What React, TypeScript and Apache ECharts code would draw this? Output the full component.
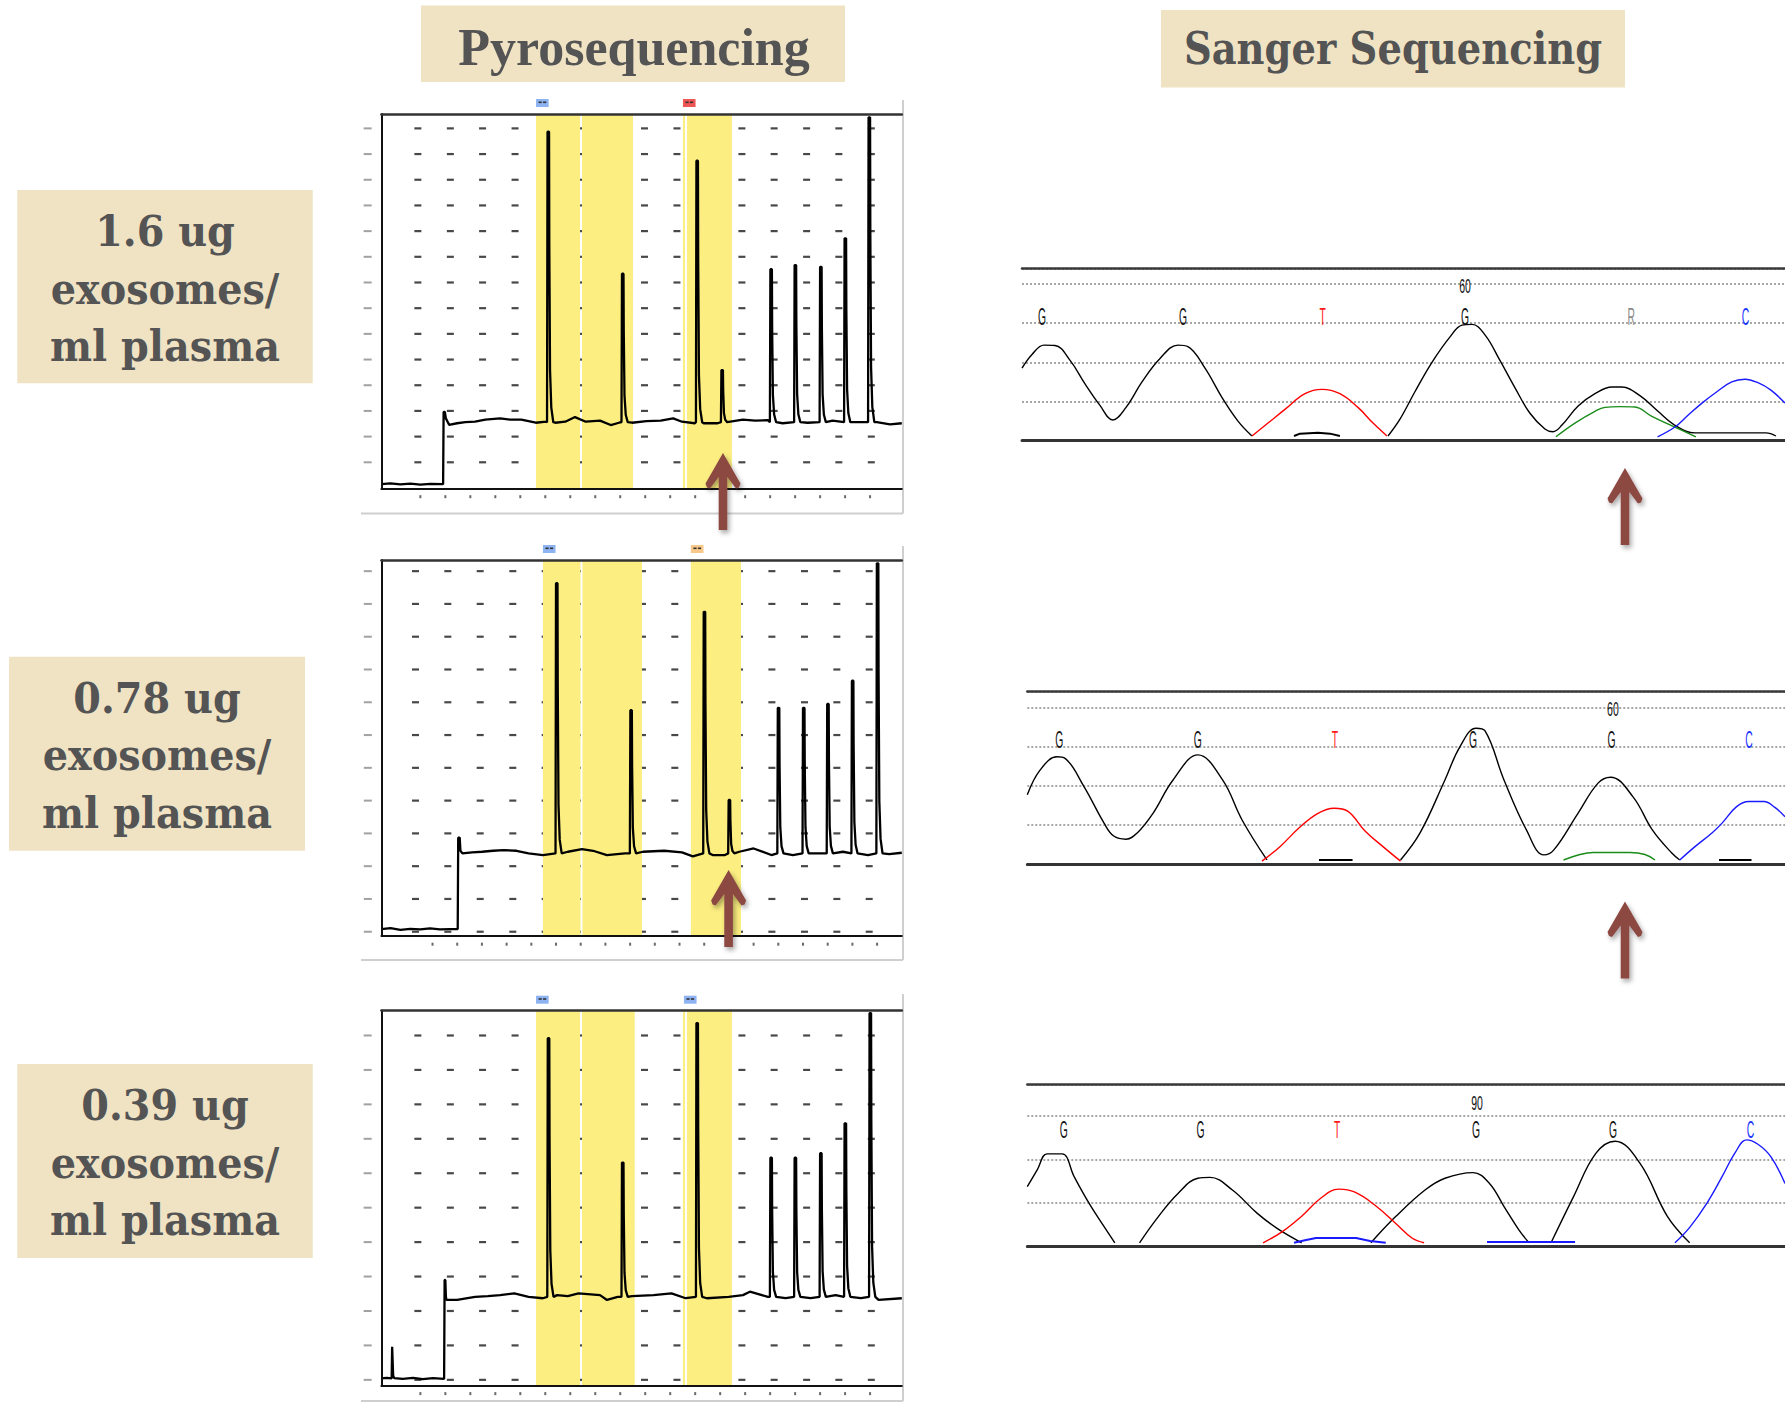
import React, { useEffect, useRef } from "react";
import * as echarts from "echarts";

// ---------------- Pyrosequencing data (x: dispensation index, y: signal in grid rows) ----------------
const dispensations = [0, 1, 2, 3, 4, 5, 6, 7, 8, 9, 10, 11, 12, 13, 14, 15, 16, 17, 18];

const pyro1XRange = [-1.56, 19.27];
const pyro2XRange = [-2.07, 19.0];
const pyro3XRange = [-1.56, 19.27];
const pyroYMax = [14.6, 11.47, 10.89];
const pyroBaseLevel = [2.6, 2.52, 2.58];

// [dispensation position, peak height]
const pyro1Peaks = [[5.09, 13.91], [8.07, 8.38], [11.05, 12.78], [12.05, 4.63], [14.01, 8.56], [14.98, 8.72], [16.0, 8.65], [16.98, 9.76], [17.94, 14.47]];
const pyro2Peaks = [[5.0, 10.76], [8.01, 6.89], [10.98, 9.89], [11.99, 4.15], [13.98, 6.96], [15.0, 6.96], [15.98, 7.08], [16.98, 7.79], [17.99, 11.37]];
const pyro3Peaks = [[5.1, 10.09], [8.07, 6.48], [11.05, 10.53], [14.01, 6.62], [14.98, 6.62], [16.0, 6.75], [16.98, 7.62], [17.98, 10.82]];

const pyro1Baseline = [[-1.56, 0.19], [-1.2, 0.22], [-0.8, 0.18], [-0.4, 0.21], [0.0, 0.17], [0.4, 0.2], [0.91, 0.19], [0.93, 3.0], [0.98, 3.0], [1.02, 2.75], [1.15, 2.5], [1.47, 2.56], [1.8, 2.6], [2.19, 2.62], [2.6, 2.7], [3.19, 2.75], [3.6, 2.7], [4.04, 2.7], [4.62, 2.58], [5.03, 2.62], [5.4, 2.58], [5.8, 2.62], [6.19, 2.8], [6.62, 2.62], [7.19, 2.66], [7.62, 2.49], [7.95, 2.58], [8.47, 2.58], [9.05, 2.64], [9.62, 2.66], [10.12, 2.75], [10.47, 2.62], [10.98, 2.56], [11.34, 2.56], [11.9, 2.56], [12.27, 2.6], [12.91, 2.7], [13.4, 2.66], [13.91, 2.68], [14.5, 2.56], [15.5, 2.58], [16.5, 2.66], [17.5, 2.6], [18.27, 2.6], [18.8, 2.52], [19.27, 2.56]];
const pyro2Baseline = [[-2.07, 0.21], [-1.7, 0.24], [-1.3, 0.19], [-0.9, 0.22], [-0.5, 0.2], [-0.1, 0.23], [0.3, 0.2], [0.7, 0.21], [1.02, 0.21], [1.04, 3.0], [1.1, 3.0], [1.13, 2.6], [1.21, 2.52], [1.6, 2.55], [2.01, 2.57], [2.45, 2.6], [2.88, 2.62], [3.4, 2.6], [3.89, 2.52], [4.47, 2.47], [5.48, 2.57], [6.05, 2.65], [6.5, 2.6], [7.06, 2.47], [7.79, 2.52], [8.52, 2.57], [9.38, 2.6], [10.1, 2.55], [10.54, 2.43], [11.34, 2.47], [11.84, 2.47], [12.42, 2.57], [13.0, 2.67], [13.72, 2.47], [14.59, 2.47], [15.6, 2.52], [16.62, 2.57], [17.63, 2.47], [18.49, 2.5], [19.0, 2.54]];
const pyro3Baseline = [[-1.56, 0.21], [-1.35, 0.23], [-1.15, 0.21], [-1.13, 1.13], [-1.11, 1.13], [-1.09, 0.3], [-1.05, 0.22], [-0.7, 0.2], [-0.3, 0.23], [0.1, 0.19], [0.5, 0.22], [0.95, 0.2], [0.97, 3.07], [1.0, 3.07], [1.02, 2.6], [1.04, 2.49], [1.47, 2.49], [2.19, 2.58], [2.7, 2.6], [3.19, 2.63], [3.76, 2.68], [4.33, 2.58], [4.9, 2.54], [5.47, 2.63], [5.9, 2.6], [6.33, 2.68], [7.19, 2.63], [7.47, 2.49], [7.9, 2.58], [8.47, 2.6], [9.33, 2.63], [10.05, 2.68], [10.62, 2.54], [11.47, 2.54], [12.34, 2.58], [12.91, 2.63], [13.19, 2.73], [13.91, 2.58], [14.62, 2.54], [15.62, 2.54], [16.62, 2.63], [17.63, 2.54], [18.34, 2.49], [19.27, 2.54]];

// highlighted (yellow) dispensation ranges
const pyro1Yellow = [[4.63, 6.39], [6.47, 8.51], [10.51, 10.59], [10.67, 12.47]];
const pyro2Yellow = [[4.47, 5.99], [6.07, 8.48], [10.46, 12.49]];
const pyro3Yellow = [[4.63, 6.39], [6.47, 8.58], [10.51, 10.59], [10.67, 12.47]];

// small nucleotide markers above the pyrograms: [dispensation start, colour]
const pyro1Markers = [[4.63, "#8DB3F2"], [10.51, "#EE5555"]];
const pyro2Markers = [[4.47, "#8DB3F2"], [10.46, "#F7C889"]];
const pyro3Markers = [[4.63, "#8DB3F2"], [10.55, "#8DB3F2"]];

// dashed grid intersections
const pyro13DashCols = [-0.1, 1.2, 2.49, 3.79, 5.09, 6.38, 7.68, 8.97, 10.27, 11.57, 12.87, 14.16, 15.46, 16.75, 18.05];
const pyro2DashCols = [-0.69, 0.62, 1.93, 3.25, 4.56, 5.87, 7.18, 8.5, 9.81, 11.12, 12.43, 13.74, 15.06, 16.37, 17.68];
const pyro1DashRows = [1.04, 2.04, 3.04, 4.04, 5.04, 6.04, 7.04, 8.04, 9.04, 10.04, 11.04, 12.04, 13.04, 14.04];
const pyro2DashRows = [0.13, 1.13, 2.13, 3.13, 4.13, 5.13, 6.13, 7.13, 8.13, 9.13, 10.13, 11.13];
const pyro3DashRows = [0.17, 1.17, 2.17, 3.17, 4.17, 5.17, 6.17, 7.17, 8.17, 9.17, 10.17];

// ---------------- Sanger data (x: base position, y: signal) ----------------
const sanger1XRange = [56.858, 62.27];
const sanger2XRange = [55.775, 61.254];
const sanger3XRange = [86.734, 92.249];
const sangerYMax = [4.4, 4.4, 3.725];

const sanger1Black = [
  [[56.858, 1.85], [56.929, 2.2], [57.014, 2.44], [57.092, 2.43], [57.199, 2.05], [57.305, 1.45], [57.411, 0.9], [57.502, 0.53], [57.596, 0.85], [57.709, 1.5], [57.837, 2.1], [57.965, 2.44], [58.035, 2.4], [58.156, 1.85], [58.277, 1.1], [58.39, 0.5], [58.489, 0.12]],
  [[58.787, 0.12], [58.83, 0.18], [58.957, 0.2], [59.043, 0.18], [59.113, 0.12]],
  [[59.454, 0.12], [59.539, 0.55], [59.645, 1.25], [59.766, 2.0], [59.894, 2.65], [59.979, 2.95], [60.05, 2.97], [60.142, 2.7], [60.248, 2.05], [60.355, 1.35], [60.461, 0.7], [60.567, 0.3], [60.624, 0.23], [60.688, 0.4], [60.801, 0.88], [60.922, 1.2], [61.043, 1.37], [61.113, 1.37], [61.241, 1.15], [61.369, 0.75], [61.496, 0.38], [61.631, 0.2], [62.135, 0.2], [62.206, 0.12]],
];
const sanger1Red = [[58.489, 0.12], [58.603, 0.45], [58.723, 0.8], [58.865, 1.2], [58.986, 1.31], [59.113, 1.2], [59.241, 0.85], [59.348, 0.45], [59.447, 0.12]];
const sanger1Green = [[60.645, 0.1], [60.78, 0.45], [60.922, 0.75], [60.993, 0.85], [61.099, 0.87], [61.206, 0.86], [61.326, 0.62], [61.504, 0.32], [61.638, 0.1]];
const sanger1Blue = [[61.366, 0.1], [61.489, 0.35], [61.582, 0.65], [61.681, 0.96], [61.787, 1.25], [61.892, 1.5], [61.986, 1.57], [62.078, 1.48], [62.17, 1.29], [62.27, 0.96]];

const sanger2Black = [
  [[55.775, 1.77], [55.867, 2.4], [55.99, 2.74], [56.048, 2.7], [56.185, 1.98], [56.33, 1.05], [56.4, 0.72], [56.489, 0.64], [56.57, 0.8], [56.684, 1.3], [56.829, 2.15], [57.009, 2.79], [57.187, 2.15], [57.328, 1.13], [57.508, 0.11]],
  [[57.884, 0.11], [58.127, 0.11]],
  [[58.474, 0.11], [58.615, 0.8], [58.795, 2.15], [58.904, 3.0], [59.02, 3.47], [59.085, 3.4], [59.222, 2.15], [59.385, 0.87], [59.51, 0.24], [59.581, 0.36], [59.757, 1.3], [59.902, 2.07], [59.993, 2.22], [60.155, 1.72], [60.296, 0.87], [60.437, 0.28], [60.493, 0.11]],
  [[60.777, 0.11], [61.012, 0.11]],
];
const sanger2Red = [[57.472, 0.08], [57.602, 0.45], [57.747, 0.95], [57.877, 1.3], [57.993, 1.43], [58.094, 1.35], [58.217, 0.85], [58.347, 0.45], [58.474, 0.08]];
const sanger2Green = [[59.653, 0.11], [59.772, 0.25], [59.866, 0.3], [60.133, 0.3], [60.241, 0.25], [60.314, 0.11]];
const sanger2Blue = [[60.493, 0.11], [60.603, 0.45], [60.726, 0.8], [60.799, 1.05], [60.904, 1.47], [60.993, 1.6], [61.102, 1.6], [61.181, 1.45], [61.254, 1.21]];

const sanger3Black = [
  [[86.734, 1.38], [86.806, 1.76], [86.878, 2.13], [86.987, 2.13], [87.076, 1.6], [87.183, 1.0], [87.293, 0.46], [87.371, 0.09]],
  [[87.551, 0.09], [87.688, 0.69], [87.831, 1.22], [87.975, 1.57], [88.064, 1.59], [88.227, 1.3], [88.406, 0.77], [88.552, 0.42], [88.731, 0.09]],
  [[89.235, 0.09], [89.415, 0.69], [89.629, 1.3], [89.774, 1.57], [89.978, 1.7], [90.098, 1.45], [90.204, 0.92], [90.313, 0.38], [90.386, 0.09]],
  [[90.546, 0.09], [90.71, 1.15], [90.872, 2.14], [91.012, 2.42], [91.194, 1.91], [91.394, 0.69], [91.555, 0.09]],
];
const sanger3Red = [[88.45, 0.09], [88.588, 0.34], [88.731, 0.7], [88.865, 1.1], [89.001, 1.32], [89.119, 1.25], [89.265, 0.95], [89.41, 0.55], [89.534, 0.2], [89.622, 0.09]];
const sanger3Blue = [
  [[88.675, 0.09], [88.755, 0.15], [88.835, 0.2], [89.127, 0.2], [89.229, 0.13], [89.343, 0.09]],
  [[90.08, 0.11], [90.721, 0.11]],
  [[91.448, 0.09], [91.557, 0.45], [91.681, 1.0], [91.79, 1.6], [91.885, 2.15], [91.969, 2.45], [92.052, 2.35], [92.147, 2.06], [92.249, 1.45]],
];

// base calls [position, base] and the numbered position label
const sanger1Bases = [[57.0, "G"], [58.0, "G"], [58.99, "T"], [60.0, "G"], [61.18, "R"], [61.99, "C"]];
const sanger2Bases = [[56.007, "G"], [57.008, "G"], [57.999, "T"], [58.998, "G"], [60.0, "G"], [60.993, "C"]];
const sanger3Bases = [[87.0, "G"], [87.994, "G"], [88.99, "T"], [90.0, "G"], [90.997, "G"], [91.998, "C"]];
const sangerBaseY = [3.16, 3.17, 2.68];
const sangerPositionLabels = [[60.0, 3.95, "60"], [60.01, 3.95, "60"], [90.007, 3.3, "90"]];

// ---------------- Text ----------------
const columnTitles = ["Pyrosequencing", "Sanger Sequencing"];
const rowLabels = [
  ["1.6 ug", "exosomes/", "ml plasma"],
  ["0.78 ug", "exosomes/", "ml plasma"],
  ["0.39 ug", "exosomes/", "ml plasma"],
];

const BASE_COLORS: Record<string, string> = { G: "#111111", T: "#ff1a1a", R: "#8a8a8a", C: "#1a33ff", A: "#1a8c1a" };
const BOX_FILL = "#F0E3C4";
const LABEL_TEXT = "#545454";
const ARROW = "#8C4843";

const SPIKE_SHAPE = [[-0.02, 0], [0.0, 1], [0.06, 1], [0.07, 0.62], [0.1, 0.18], [0.15, 0.05], [0.23, 0]];

function pyroTrace(baseline: number[][], peaks: number[][], base: number) {
  const pts = baseline.filter(([x]) => !peaks.some(([p]) => x > p - 0.04 && x < p + 0.26)).map((d) => d.slice());
  peaks.forEach(([p, top]) => SPIKE_SHAPE.forEach(([dx, f]) => pts.push([p + dx, base + f * (top - base)])));
  return pts.sort((a, b) => a[0] - b[0]);
}

function cross(cols: number[], rows: number[]) {
  const out: number[][] = [];
  rows.forEach((r) => cols.forEach((c) => out.push([c, r])));
  return out;
}

const pyroPanels = [
  { xRange: pyro1XRange, grid: { left: 381.4, top: 114, width: 520.4, height: 375 }, baseline: pyro1Baseline, peaks: pyro1Peaks, yellow: pyro1Yellow, markers: pyro1Markers, cols: pyro13DashCols, rows: pyro1DashRows, tickY: -0.3 },
  { xRange: pyro2XRange, grid: { left: 381.4, top: 560, width: 520.4, height: 376 }, baseline: pyro2Baseline, peaks: pyro2Peaks, yellow: pyro2Yellow, markers: pyro2Markers, cols: pyro2DashCols, rows: pyro2DashRows, tickY: -0.25 },
  { xRange: pyro3XRange, grid: { left: 381.4, top: 1010.7, width: 520.4, height: 375 }, baseline: pyro3Baseline, peaks: pyro3Peaks, yellow: pyro3Yellow, markers: pyro3Markers, cols: pyro13DashCols, rows: pyro3DashRows, tickY: -0.23 },
];

const sangerPanels = [
  { xRange: sanger1XRange, grid: { left: 1022, top: 268.3, width: 763, height: 172.4 }, black: sanger1Black, red: [sanger1Red], green: [sanger1Green], blue: [sanger1Blue], bases: sanger1Bases },
  { xRange: sanger2XRange, grid: { left: 1027.3, top: 691.7, width: 757.7, height: 172.6 }, black: sanger2Black, red: [sanger2Red], green: [sanger2Green], blue: [sanger2Blue], bases: sanger2Bases },
  { xRange: sanger3XRange, grid: { left: 1027.3, top: 1084.3, width: 757.7, height: 162.4 }, black: sanger3Black, red: [sanger3Red], green: [] as number[][][], blue: sanger3Blue, bases: sanger3Bases },
];

const arrowTips = [[723, 453], [1625, 468], [728.6, 870], [1625, 901.5]];

const hidden = { axisTick: { show: false }, axisLabel: { show: false }, splitLine: { show: false } };

function buildOption() {
  const grid: any[] = [];
  const xAxis: any[] = [];
  const yAxis: any[] = [];
  const series: any[] = [];

  pyroPanels.forEach((p, i) => {
    grid.push({ ...p.grid, containLabel: false, outerBoundsMode: "none" });
    const [xmin, xmax] = p.xRange;
    xAxis.push({ type: "value", gridIndex: i, min: xmin, max: xmax, z: 5, ...hidden, axisLine: { show: true, onZero: false, lineStyle: { color: "#111", width: 2 } } });
    xAxis.push({ type: "value", gridIndex: i, position: "top", min: xmin, max: xmax, z: 5, ...hidden, axisLine: { show: true, onZero: false, lineStyle: { color: "#333", width: 2.5 } } });
    yAxis.push({ type: "value", gridIndex: i, min: 0, max: pyroYMax[i], z: 5, ...hidden, axisLine: { show: true, onZero: false, lineStyle: { color: "#111", width: 2 } } });
    const xi = i * 2;
    series.push({
      type: "scatter", xAxisIndex: xi, yAxisIndex: i, silent: true, z: 0, symbol: "rect", symbolSize: [7, 2.2],
      itemStyle: { color: "#1a1a1a" }, data: cross(p.cols, p.rows),
    });
    series.push({
      type: "scatter", xAxisIndex: xi, yAxisIndex: i, silent: true, z: 0, clip: false, symbol: "rect", symbolSize: [8, 2],
      itemStyle: { color: "#8a8a8a" }, data: p.rows.map((r) => [xmin - 0.55, r]),
    });
    series.push({
      type: "scatter", xAxisIndex: xi, yAxisIndex: i, silent: true, z: 0, clip: false, symbol: "rect", symbolSize: [2, 3],
      itemStyle: { color: "#444" }, data: dispensations.map((d) => [d, p.tickY]),
    });
    series.push({
      type: "line", xAxisIndex: xi, yAxisIndex: i, silent: true, z: 1, symbol: "none", data: [[xmin, 0]],
      lineStyle: { opacity: 0 },
      markArea: { silent: true, itemStyle: { color: "#FCEE80", opacity: 1 }, data: p.yellow.map(([a, b]) => [{ xAxis: a }, { xAxis: b }]) },
    });
    series.push({
      type: "line", xAxisIndex: xi, yAxisIndex: i, silent: true, z: 3, symbol: "none", showSymbol: false,
      lineStyle: { color: "#000", width: 2.3 }, data: pyroTrace(p.baseline, p.peaks, pyroBaseLevel[i]),
    });
  });

  sangerPanels.forEach((s, k) => {
    const gi = 3 + k;
    grid.push({ ...s.grid, containLabel: false, outerBoundsMode: "none" });
    const [xmin, xmax] = s.xRange;
    xAxis.push({ type: "value", gridIndex: gi, min: xmin, max: xmax, z: 3, ...hidden, axisLine: { show: true, onZero: false, lineStyle: { color: "#333", width: 3, type: [1.5, 1.2] } } });
    xAxis.push({ type: "value", gridIndex: gi, position: "top", min: xmin, max: xmax, z: 3, ...hidden, axisLine: { show: true, onZero: false, lineStyle: { color: "#3a3a3a", width: 2.5 } } });
    yAxis.push({
      type: "value", gridIndex: gi, min: 0, max: sangerYMax[k], interval: 1, axisTick: { show: false }, axisLabel: { show: false }, axisLine: { show: false },
      splitLine: { show: true, lineStyle: { color: "#8a8a8a", width: 1.5, type: [2, 2] } },
    });
    const xi = 6 + k * 2;
    const addLines = (segs: number[][][], color: string) =>
      segs.forEach((seg) => {
        const flat = seg.every((d) => d[1] < 0.25);
        series.push({
          type: "line", xAxisIndex: xi, yAxisIndex: gi, silent: true, z: 4, symbol: "none", showSymbol: false,
          smooth: flat ? false : 0.4, lineStyle: { color, width: flat ? 2 : 1.4 }, data: seg,
        });
      });
    addLines(s.black, "#000000");
    addLines(s.red, "#ff0000");
    addLines(s.green, "#1a8c1a");
    addLines(s.blue, "#1a1aff");
  });

  return { animation: false, backgroundColor: "#ffffff", grid, xAxis, yAxis, series };
}

function textEl(x: number, y: number, text: string, font: string, fill: string, scaleX = 1) {
  return {
    type: "text", x, y, scaleX, z: 20, silent: true,
    style: { text, font, fill, align: "center", verticalAlign: "middle", textAlign: "center", textVerticalAlign: "middle" },
  };
}

function staticGraphics() {
  const g: any[] = [];
  // frames around the pyrograms (light grey)
  const frames = [[100, 513.5], [546, 960], [994, 1401]];
  frames.forEach(([top, bottom]) => {
    g.push({ type: "line", silent: true, z: 1, shape: { x1: 361, y1: bottom, x2: 903, y2: bottom }, style: { stroke: "#cfcfcf", lineWidth: 2 } });
    g.push({ type: "line", silent: true, z: 1, shape: { x1: 903, y1: top, x2: 903, y2: bottom }, style: { stroke: "#cfcfcf", lineWidth: 2 } });
  });
  // column titles
  g.push({ type: "rect", silent: true, z: 10, shape: { x: 421, y: 5.5, width: 424, height: 76.5 }, style: { fill: BOX_FILL } });
  g.push(textEl(634, 47, columnTitles[0], 'bold 52px "Liberation Serif"', LABEL_TEXT));
  g.push({ type: "rect", silent: true, z: 10, shape: { x: 1161, y: 10, width: 464, height: 77.5 }, style: { fill: BOX_FILL } });
  g.push(textEl(1393, 48.5, columnTitles[1], 'bold 45px "DejaVu Serif"', LABEL_TEXT, 0.855));
  // row labels
  const boxes = [[17.3, 190, 295.4, 193.3, 165], [9, 656.7, 296, 194, 157], [17.3, 1064, 295.4, 194, 165]];
  boxes.forEach(([x, y, w, h, cx], i) => {
    g.push({ type: "rect", silent: true, z: 10, shape: { x, y, width: w, height: h }, style: { fill: BOX_FILL } });
    rowLabels[i].forEach((line, j) => {
      g.push(textEl(cx, y + 41 + j * 57.6, line, 'bold 43px "DejaVu Serif"', LABEL_TEXT, 0.925));
    });
  });
  // arrows
  arrowTips.forEach(([tx, ty]) => {
    const rel = [[0, 0], [-17.5, 30.5], [-16, 34.5], [-13, 35.5], [-4.3, 24], [-4.3, 77], [4.3, 77], [4.3, 24], [13, 35.5], [16, 34.5], [17.5, 30.5]];
    g.push({
      type: "polygon", silent: true, z: 30,
      shape: { points: rel.map(([dx, dy]) => [tx + dx, ty + dy]) },
      style: { fill: ARROW, shadowBlur: 5, shadowColor: "rgba(0,0,0,0.35)", shadowOffsetX: 2, shadowOffsetY: 3 },
    });
  });
  return g;
}

export default function App() {
  const ref = useRef<HTMLDivElement>(null);
  useEffect(() => {
    if (!ref.current) return;
    const chart = echarts.init(ref.current, undefined, { renderer: "svg" });
    chart.setOption(buildOption() as any);
    const g = staticGraphics();
    // markers above pyrograms
    pyroPanels.forEach((p, i) => {
      p.markers.forEach(([x, color]) => {
        const pt = chart.convertToPixel({ xAxisIndex: i * 2, yAxisIndex: i } as any, [x as number, pyroYMax[i]]) as any;
        if (!pt) return;
        const [px, py] = pt;
        g.push({ type: "rect", silent: true, z: 10, shape: { x: px, y: py - 15, width: 12.6, height: 8 }, style: { fill: color as string } });
        g.push({ type: "rect", silent: true, z: 11, shape: { x: px + 2.5, y: py - 12.5, width: 3.2, height: 1.6 }, style: { fill: "#333" } });
        g.push({ type: "rect", silent: true, z: 11, shape: { x: px + 7, y: py - 12.5, width: 3.2, height: 1.6 }, style: { fill: "#333" } });
      });
    });
    // Sanger base calls and position numbers
    sangerPanels.forEach((s, k) => {
      const finder = { xAxisIndex: 6 + k * 2, yAxisIndex: 3 + k } as any;
      s.bases.forEach(([x, b]) => {
        const pt = chart.convertToPixel(finder, [x as number, sangerBaseY[k]]) as any;
        if (!pt) return;
        g.push(textEl(pt[0], pt[1], b as string, '23px "Liberation Sans"', BASE_COLORS[b as string] || "#111", 0.45));
      });
      const [lx, ly, lt] = sangerPositionLabels[k];
      const pt = chart.convertToPixel(finder, [lx as number, ly as number]) as any;
      if (pt) g.push(textEl(pt[0], pt[1], lt as string, '21px "Liberation Sans"', "#111", 0.5));
    });
    chart.setOption({ graphic: g } as any);
    return () => chart.dispose();
  }, []);
  return <div ref={ref} style={{ position: "fixed", left: 0, top: 0, width: 1785, height: 1403, background: "#fff" }} />;
}
